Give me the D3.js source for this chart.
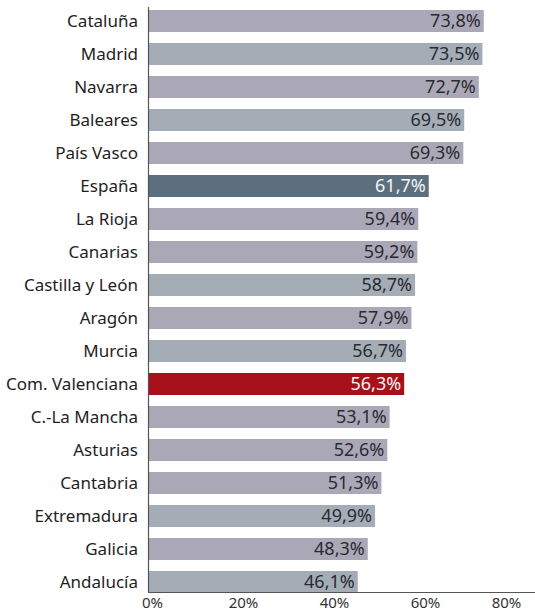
<!DOCTYPE html>
<html><head><meta charset="utf-8">
<script src="https://cdn.jsdelivr.net/npm/d3@7"></script>
<style>body{margin:0;background:#fff}svg{display:block}text{font-family:"Noto Sans",sans-serif}</style>
</head><body>
<svg id="c" width="535" height="613"></svg>
<script>
const regions = ["Cataluña","Madrid","Navarra","Baleares","País Vasco","España","La Rioja","Canarias","Castilla y León","Aragón","Murcia","Com. Valenciana","C.-La Mancha","Asturias","Cantabria","Extremadura","Galicia","Andalucía"];
const values = [73.8,73.5,72.7,69.5,69.3,61.7,59.4,59.2,58.7,57.9,56.7,56.3,53.1,52.6,51.3,49.9,48.3,46.1];
const tones = ["p","b","p","b","p","es","p","p","b","p","b","cv","p","p","p","b","p","b"];
const ticks = [0,20,40,60,80];

const toneColor = {p:"#aaa8b6", b:"#a4adb6", es:"#5b6f7f", cv:"#a8101a"};
const svg = d3.select("#c");
const x = d3.scaleLinear().domain([0,80]).range([148,512]);
const y = d3.scaleBand().domain(regions).range([4.5,598.5]).paddingInner(1/3).paddingOuter(1/6);
const data = regions.map((r,i)=>({r, v:values[i], t:tones[i]}));

svg.selectAll("rect.bar").data(data).join("rect").attr("class","bar")
  .attr("x", x(0)).attr("y", d=>y(d.r)).attr("height", y.bandwidth())
  .attr("width", d=>x(d.v)-x(0)).attr("fill", d=>toneColor[d.t]);

svg.selectAll("text.val").data(data).join("text").attr("class","val")
  .attr("x", d=>x(d.v)-3).attr("y", d=>y(d.r)+y.bandwidth()/2).attr("dy","0.34em")
  .attr("text-anchor","end").attr("font-size",18)
  .attr("fill", d=>(d.t==="es"||d.t==="cv")?"#f4f4f4":"#2a2a32").text(d=>d.v.toFixed(1).replace(".",",")+"%");

svg.selectAll("text.cat").data(data).join("text").attr("class","cat")
  .attr("x",138).attr("y", d=>y(d.r)+y.bandwidth()/2).attr("dy","0.36em")
  .attr("text-anchor","end").attr("font-size",17).attr("fill","#1e1e1e").text(d=>d.r);

// axes lines
svg.append("line").attr("x1",x(0)+0.5).attr("x2",x(0)+0.5).attr("y1",7).attr("y2",592.5).attr("stroke","#555").attr("stroke-width",1.2);
svg.append("line").attr("x1",x(0)).attr("x2",535).attr("y1",592.5).attr("y2",592.5).attr("stroke","#555").attr("stroke-width",1.2);

const xa = d3.axisBottom(x).tickValues(ticks).tickSize(0).tickFormat(d=>d+"%");
const g = svg.append("g").attr("transform","translate(0,597.5)").call(xa);
g.select(".domain").remove();
g.selectAll("text").attr("font-size",15).attr("fill","#333").attr("font-family","Noto Sans, sans-serif")
  .attr("dx", d=> d===80 ? -6 : 4).attr("y",0).attr("dy","0.72em");
</script>
</body></html>
